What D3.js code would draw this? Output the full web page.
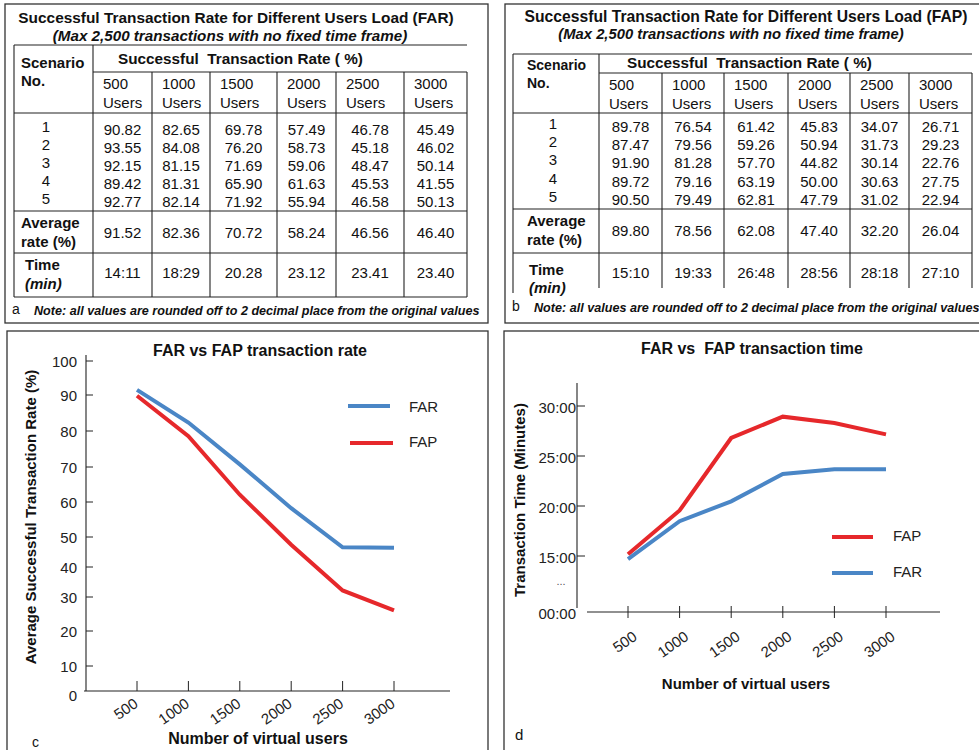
<!DOCTYPE html>
<html><head><meta charset="utf-8">
<script src="https://cdn.jsdelivr.net/npm/d3@7/dist/d3.min.js"></script>
<style>
html,body{margin:0;padding:0;background:#fff;}
svg{display:block;font-family:"Liberation Sans",Arial,sans-serif;}
svg text{white-space:pre;}
</style></head>
<body>
<svg id="fig" width="979" height="750"></svg>
<script>
// ---------------- DATA ----------------
const users = [500, 1000, 1500, 2000, 2500, 3000];
const scenarios = ["1", "2", "3", "4", "5"];

const farRates = [
  [90.82, 82.65, 69.78, 57.49, 46.78, 45.49],
  [93.55, 84.08, 76.20, 58.73, 45.18, 46.02],
  [92.15, 81.15, 71.69, 59.06, 48.47, 50.14],
  [89.42, 81.31, 65.90, 61.63, 45.53, 41.55],
  [92.77, 82.14, 71.92, 55.94, 46.58, 50.13]
];
const farAvg = [91.52, 82.36, 70.72, 58.24, 46.56, 46.40];
const farTime = ["14:11", "18:29", "20.28", "23.12", "23.41", "23.40"];

const fapRates = [
  [89.78, 76.54, 61.42, 45.83, 34.07, 26.71],
  [87.47, 79.56, 59.26, 50.94, 31.73, 29.23],
  [91.90, 81.28, 57.70, 44.82, 30.14, 22.76],
  [89.72, 79.16, 63.19, 50.00, 30.63, 27.75],
  [90.50, 79.49, 62.81, 47.79, 31.02, 22.94]
];
const fapAvg = [89.80, 78.56, 62.08, 47.40, 32.20, 26.04];
const fapTime = ["15:10", "19:33", "26:48", "28:56", "28:18", "27:10"];

const rateTicks = [0, 10, 20, 30, 40, 50, 60, 70, 80, 90, 100];
const timeTicks = [0, 15, 20, 25, 30];
const timeTickLabels = ["00:00", "15:00", "20:00", "25:00", "30:00"];

// layout: the original rate axis is drawn with uneven tick spacing (pixel rows of each tick)
const rateAxisRows = [691, 666, 631, 597, 567, 537, 502, 467, 431, 395, 361];

const BLUE = "#4a86c6", RED = "#e6282b";

// time string "mm:ss" or "mm.ss" -> minutes
function toMin(s) { const p = s.split(/[:.]/); return +p[0] + (+p[1]) / 60; }

const svg = d3.select("#fig");
svg.append("rect").attr("width", 979).attr("height", 750).attr("fill", "#fff");

function panel(x, y, w, h) {
  svg.append("rect").attr("x", x).attr("y", y).attr("width", w).attr("height", h)
    .attr("fill", "none").attr("stroke", "#333").attr("stroke-width", 1.3);
}
function txt(g, x, y, s, o = {}) {
  return g.append("text").attr("x", x).attr("y", y).text(s)
    .attr("font-size", o.size || 15).attr("font-weight", o.bold ? "bold" : null)
    .attr("font-style", o.italic ? "italic" : null)
    .attr("text-anchor", o.anchor || "start").attr("fill", o.fill || "#111")
    .attr("dominant-baseline", "central");
}
function hline(g, x1, x2, y) {
  g.append("line").attr("x1", x1).attr("x2", x2).attr("y1", y).attr("y2", y)
    .attr("stroke", "#222").attr("stroke-width", 1.1);
}
function vline(g, x, y1, y2) {
  g.append("line").attr("x1", x).attr("x2", x).attr("y1", y1).attr("y2", y2)
    .attr("stroke", "#222").attr("stroke-width", 1.1);
}

// ---------------- TABLES ----------------
function drawTable(L, rates, avg, time, title, letter) {
  const g = svg.append("g");
  panel(L.px, L.py, L.pw, L.ph);
  txt(g, L.titleX, L.titleY, title, { bold: true, anchor: "middle", size: L.titleSize });
  txt(g, L.subX, L.subY, "(Max 2,500 transactions with no fixed time frame)",
    { bold: true, italic: true, anchor: "middle", size: L.subSize });
  const c = L.cols, left = c[0], right = c[c.length - 1];
  hline(g, left, right, L.top);
  hline(g, c[1], right, L.sub);
  hline(g, left, right, L.head);
  hline(g, left, right, L.dataB);
  hline(g, left, right, L.avgB);
  if (L.drawBottom) hline(g, left, right, L.bottom);
  vline(g, left, L.top, L.bottom + (L.drawBottom ? 0 : 5));
  c.slice(1).forEach((x, i) => vline(g, x, i === 0 ? L.top : L.sub, L.bottom));
  txt(g, L.scX, L.scY1, "Scenario", { bold: true, size: L.scSize });
  txt(g, L.scX, L.scY2, "No.", { bold: true, size: L.scSize });
  txt(g, L.strX, L.strY, "Successful  Transaction Rate ( %)", { bold: true, size: 15.3 });
  users.forEach((u, i) => {
    txt(g, c[i + 1] + 10, L.uY1, String(u));
    txt(g, c[i + 1] + 10, L.uY2, "Users");
  });
  rates.forEach((row, r) => {
    txt(g, L.numX, L.rowY[r] - 3, scenarios[r], { anchor: "middle" });
    row.forEach((v, i) => txt(g, (c[i + 1] + c[i + 2]) / 2, L.rowY[r], v.toFixed(2), { anchor: "middle" }));
  });
  txt(g, L.avX, L.avY1, "Average", { bold: true });
  txt(g, L.avX, L.avY2, "rate (%)", { bold: true });
  avg.forEach((v, i) => txt(g, (c[i + 1] + c[i + 2]) / 2, L.avV, v.toFixed(2), { anchor: "middle" }));
  txt(g, L.tmX, L.tmY1, "Time", { bold: true });
  txt(g, L.tmX, L.tmY2, "(min)", { bold: true, italic: true });
  time.forEach((v, i) => txt(g, (c[i + 1] + c[i + 2]) / 2, L.tmV, v, { anchor: "middle" }));
  txt(g, L.px + 7, L.noteY - 2, letter, { size: 14 });
  txt(g, L.px + 29, L.noteY, "Note: all values are rounded off to 2 decimal place from the original values",
    { bold: true, italic: true, size: 12.6 });
}

drawTable({
  px: 5, py: 4, pw: 483, ph: 319,
  titleX: 236, titleY: 17, titleSize: 15.4, subX: 230, subY: 35, subSize: 15.2,
  cols: [14, 93, 152, 210, 277, 336, 404, 467],
  top: 45, sub: 72, head: 113, dataB: 211, avgB: 253, bottom: 297, drawBottom: true,
  scX: 21, scY1: 62, scY2: 80, scSize: 15,
  strX: 118, strY: 58, uY1: 83, uY2: 102,
  numX: 46, rowY: [129, 147, 165, 183, 201],
  avX: 21, avY1: 222, avY2: 241, avV: 232,
  tmX: 25, tmY1: 264, tmY2: 283, tmV: 272,
  noteY: 311
}, farRates, farAvg, farTime, "Successful Transaction Rate for Different Users Load (FAR)", "a");

drawTable({
  px: 505, py: 4, pw: 490, ph: 319,
  titleX: 746, titleY: 16, titleSize: 15.7, subX: 731, subY: 34, subSize: 14.8,
  cols: [513, 599, 662, 724, 788, 850, 909, 972],
  top: 54, sub: 73, head: 113, dataB: 209, avgB: 253, bottom: 288, drawBottom: false,
  scX: 527, scY1: 65, scY2: 83, scSize: 14,
  strX: 627, strY: 62, uY1: 84, uY2: 103,
  numX: 553, rowY: [126, 144, 162, 181, 199],
  avX: 527, avY1: 220, avY2: 239, avV: 230,
  tmX: 529, tmY1: 269, tmY2: 287, tmV: 272,
  noteY: 308
}, fapRates, fapAvg, fapTime, "Successful Transaction Rate for Different Users Load (FAP)", "b");

// ---------------- CHART C ----------------
(function () {
  panel(7, 331, 481, 430);
  const g = svg.append("g");
  const x = d3.scaleLinear().domain([500, 3000]).range([137, 394]);
  const y = d3.scaleLinear().domain(rateTicks).range(rateAxisRows);
  vline(g, 86, 355, 691);
  rateTicks.forEach(t => {
    if (t > 0) g.append("line").attr("x1", 86).attr("x2", 93).attr("y1", y(t)).attr("y2", y(t)).attr("stroke", "#222");
    txt(g, 77, y(t) + (t === 0 ? 4 : 0), String(t), { anchor: "end", fill: "#222" });
  });
  hline(g, 84, 450, 691);
  users.forEach(u => {
    g.append("line").attr("x1", x(u)).attr("x2", x(u)).attr("y1", 681).attr("y2", 691).attr("stroke", "#222");
    g.append("text").attr("transform", `translate(${x(u) + 2},${706}) rotate(-35)`)
      .attr("text-anchor", "end").attr("font-size", 15).attr("fill", "#222").text(String(u));
  });
  const line = d3.line().x((d, i) => x(users[i])).y(d => y(d));
  g.append("path").datum(farAvg).attr("d", line).attr("fill", "none").attr("stroke", BLUE).attr("stroke-width", 4);
  g.append("path").datum(fapAvg).attr("d", line).attr("fill", "none").attr("stroke", RED).attr("stroke-width", 4);
  txt(g, 260, 350, "FAR vs FAP transaction rate", { bold: true, anchor: "middle", size: 16 });
  txt(g, 258, 738, "Number of virtual users", { bold: true, anchor: "middle", size: 16 });
  g.append("text").attr("transform", "translate(30,517) rotate(-90)").attr("text-anchor", "middle")
    .attr("dominant-baseline", "central").attr("font-size", 15).attr("font-weight", "bold").attr("fill", "#111")
    .text("Average Successful Transaction Rate (%)");
  g.append("line").attr("x1", 348).attr("x2", 390).attr("y1", 406).attr("y2", 406).attr("stroke", BLUE).attr("stroke-width", 4);
  txt(g, 409, 406, "FAR", { fill: "#222" });
  g.append("line").attr("x1", 350).attr("x2", 393).attr("y1", 443).attr("y2", 443).attr("stroke", RED).attr("stroke-width", 4);
  txt(g, 409, 441, "FAP", { fill: "#222" });
  txt(g, 32, 742, "c", { size: 14 });
})();

// ---------------- CHART D ----------------
(function () {
  panel(504, 331, 490, 430);
  const g = svg.append("g");
  const x = d3.scaleLinear().domain([500, 3000]).range([628, 886]);
  // broken axis: 0 at the base, then 15..30 linear
  const y = d3.scaleLinear().domain([0, 15, 30]).range([612, 556, 406]);
  vline(g, 577, 383, 608);
  timeTicks.forEach((t, i) => {
    if (t > 0) g.append("line").attr("x1", 577).attr("x2", 585).attr("y1", y(t)).attr("y2", y(t)).attr("stroke", "#222");
    txt(g, 576, y(t) + 1, timeTickLabels[i], { anchor: "end", fill: "#222" });
  });
  txt(g, 561, 581, "...", { anchor: "middle", size: 11, fill: "#555" });
  hline(g, 587, 940, 612);
  users.forEach(u => {
    g.append("line").attr("x1", x(u)).attr("x2", x(u)).attr("y1", 606).attr("y2", 618).attr("stroke", "#222");
    g.append("text").attr("transform", `translate(${x(u) + 10},${639}) rotate(-35)`)
      .attr("text-anchor", "end").attr("font-size", 15).attr("fill", "#222").text(String(u));
  });
  const line = d3.line().x((d, i) => x(users[i])).y(d => y(toMin(d)));
  g.append("path").datum(fapTime).attr("d", line).attr("fill", "none").attr("stroke", RED).attr("stroke-width", 4);
  g.append("path").datum(farTime).attr("d", line).attr("fill", "none").attr("stroke", BLUE).attr("stroke-width", 4);
  txt(g, 752, 348, "FAR vs  FAP transaction time", { bold: true, anchor: "middle", size: 16 });
  txt(g, 746, 683, "Number of virtual users", { bold: true, anchor: "middle", size: 15 });
  g.append("text").attr("transform", "translate(519,500) rotate(-90)").attr("text-anchor", "middle")
    .attr("dominant-baseline", "central").attr("font-size", 15).attr("font-weight", "bold").attr("fill", "#111")
    .text("Transaction Time (Minutes)");
  g.append("line").attr("x1", 832).attr("x2", 873).attr("y1", 537).attr("y2", 537).attr("stroke", RED).attr("stroke-width", 4);
  txt(g, 893, 535, "FAP", { fill: "#222" });
  g.append("line").attr("x1", 832).attr("x2", 873).attr("y1", 573).attr("y2", 573).attr("stroke", BLUE).attr("stroke-width", 4);
  txt(g, 893, 571, "FAR", { fill: "#222" });
  txt(g, 515, 734, "d", { size: 15 });
})();
</script>
</body></html>
